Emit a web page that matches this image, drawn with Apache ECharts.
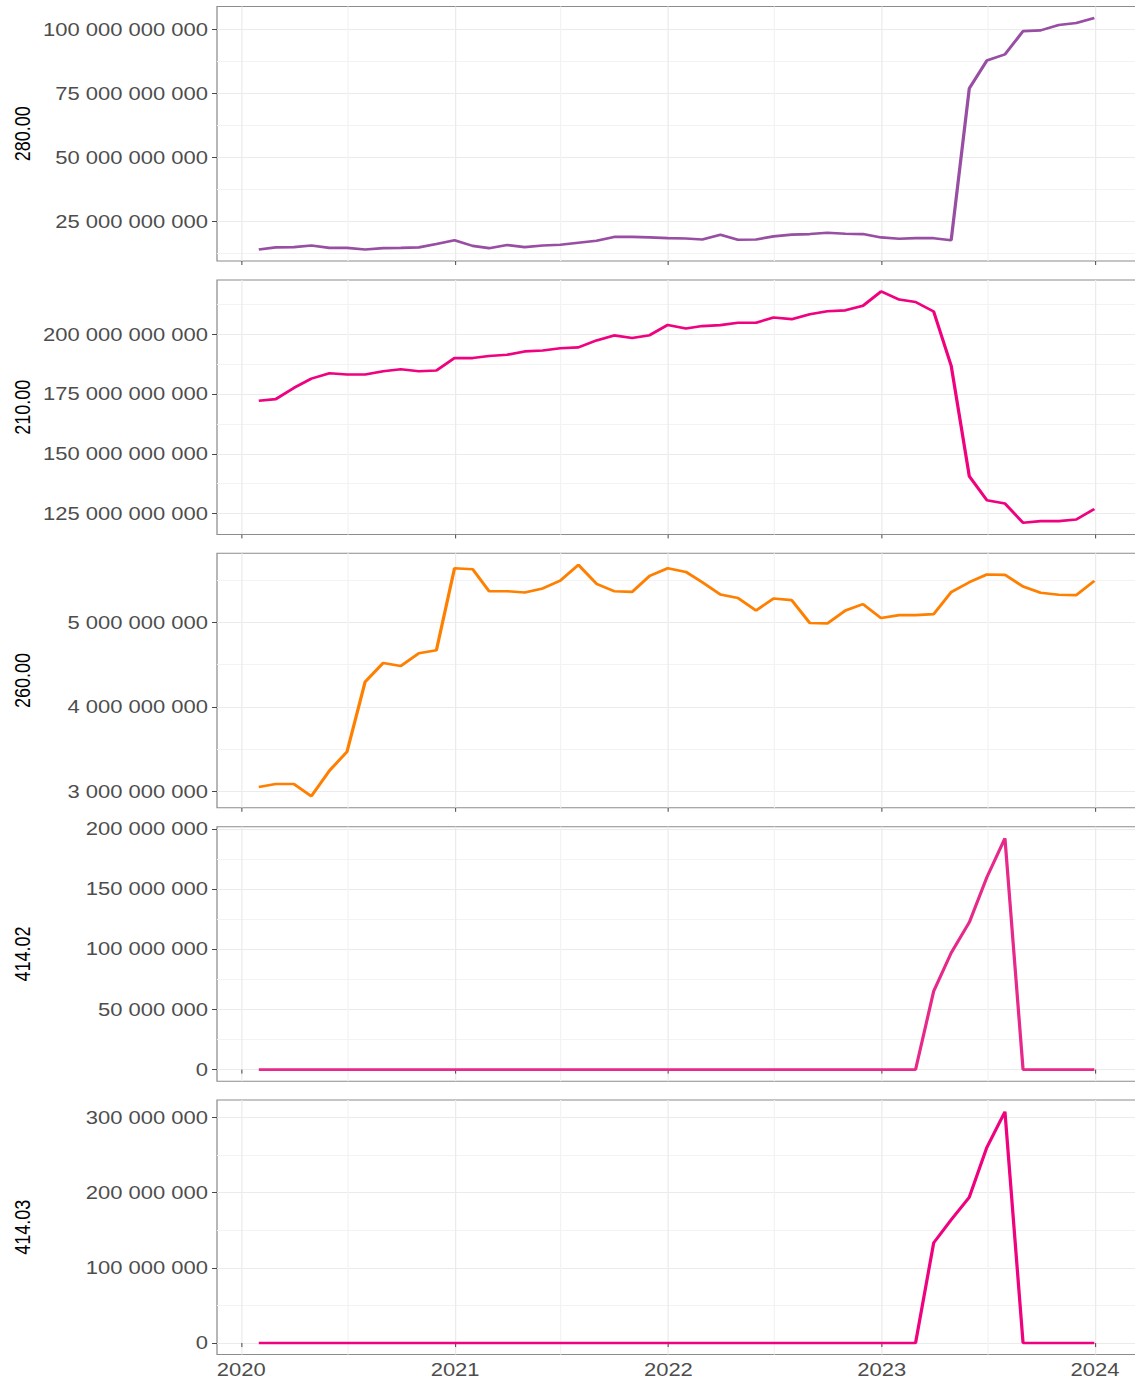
<!DOCTYPE html>
<html>
<head>
<meta charset="utf-8">
<script src="https://cdn.jsdelivr.net/npm/echarts@6/dist/echarts.min.js"></script>
<style>
html, body { margin: 0; padding: 0; overflow: hidden; background: #fff; }
/* the reference is stretched horizontally, so draw narrow and stretch */
#chart { width: 912px; height: 1381px; transform: scaleX(1.25); transform-origin: 0 0; }
</style>
</head>
<body>
<div id="chart"></div>
<script>
const dates = [
  '2020-01-31', '2020-02-29', '2020-03-31', '2020-04-30', '2020-05-31', '2020-06-30',
  '2020-07-31', '2020-08-31', '2020-09-30', '2020-10-31', '2020-11-30', '2020-12-31',
  '2021-01-31', '2021-02-28', '2021-03-31', '2021-04-30', '2021-05-31', '2021-06-30',
  '2021-07-31', '2021-08-31', '2021-09-30', '2021-10-31', '2021-11-30', '2021-12-31',
  '2022-01-31', '2022-02-28', '2022-03-31', '2022-04-30', '2022-05-31', '2022-06-30',
  '2022-07-31', '2022-08-31', '2022-09-30', '2022-10-31', '2022-11-30', '2022-12-31',
  '2023-01-31', '2023-02-28', '2023-03-31', '2023-04-30', '2023-05-31', '2023-06-30',
  '2023-07-31', '2023-08-31', '2023-09-30', '2023-10-31', '2023-11-30', '2023-12-31'
]

// billions
const values280 = [
  14.1, 14.9, 15.0, 15.65, 14.7, 14.7, 14.1, 14.6, 14.7, 14.9, 16.2, 17.7,
  15.5, 14.6, 15.8, 15.0, 15.65, 15.9, 16.7, 17.5, 19.0, 19.0, 18.8, 18.5,
  18.4, 18.0, 19.8, 17.9, 18.0, 19.2, 19.9, 20.1, 20.6, 20.2, 20.1, 18.8,
  18.3, 18.5, 18.5, 17.7, 77.0, 87.9, 90.3, 99.4, 99.7, 101.8, 102.6, 104.5
]
// billions
const values210 = [
  172.2, 172.9, 177.6, 181.5, 183.75, 183.2, 183.2, 184.6, 185.4, 184.6, 184.9, 190.1,
  190.1, 191.0, 191.5, 192.9, 193.3, 194.2, 194.6, 197.5, 199.6, 198.5, 199.7, 204.0,
  202.5, 203.5, 203.9, 204.9, 204.9, 207.1, 206.4, 208.5, 209.7, 210.1, 212.0, 218.0,
  214.6, 213.6, 209.6, 186.9, 140.6, 130.6, 129.2, 121.1, 121.8, 121.8, 122.5, 126.9
]
// billions
const values260 = [
  3.055, 3.090, 3.090, 2.945, 3.248, 3.471, 4.297, 4.521, 4.485, 4.635, 4.670, 5.640,
  5.629, 5.369, 5.369, 5.354, 5.401, 5.495, 5.680, 5.456, 5.369, 5.361, 5.550, 5.640,
  5.597, 5.475, 5.330, 5.287, 5.141, 5.283, 5.263, 4.992, 4.988, 5.141, 5.216, 5.051,
  5.086, 5.086, 5.098, 5.358, 5.475, 5.566, 5.562, 5.424, 5.350, 5.326, 5.322, 5.491
]
// millions
const values41402 = [
  0, 0, 0, 0, 0, 0, 0, 0, 0, 0, 0, 0,
  0, 0, 0, 0, 0, 0, 0, 0, 0, 0, 0, 0,
  0, 0, 0, 0, 0, 0, 0, 0, 0, 0, 0, 0,
  0, 0, 65.1, 97.0, 122.4, 159.7, 192.2, 0, 0, 0, 0, 0
]
// millions
const values41403 = [
  0, 0, 0, 0, 0, 0, 0, 0, 0, 0, 0, 0,
  0, 0, 0, 0, 0, 0, 0, 0, 0, 0, 0, 0,
  0, 0, 0, 0, 0, 0, 0, 0, 0, 0, 0, 0,
  0, 0, 133.2, 164.0, 194.1, 260.3, 307.9, 0, 0, 0, 0, 0
]

const ticks280 = [25e9, 50e9, 75e9, 100e9]
const minor280 = [12.5e9, 37.5e9, 62.5e9, 87.5e9]
const ticks210 = [125e9, 150e9, 175e9, 200e9]
const minor210 = [137.5e9, 162.5e9, 187.5e9, 212.5e9]
const ticks260 = [3e9, 4e9, 5e9]
const minor260 = [3.5e9, 4.5e9, 5.5e9]
const ticks41402 = [0, 50e6, 100e6, 150e6, 200e6]
const minor41402 = [25e6, 75e6, 125e6, 175e6]
const ticks41403 = [0, 100e6, 200e6, 300e6]
const minor41403 = [50e6, 150e6, 250e6]

const yearTicks = ['2020-01-01', '2021-01-01', '2022-01-01', '2023-01-01', '2024-01-01']
const midYears = ['2020-07-01', '2021-07-01', '2022-07-01', '2023-07-01']

const panels = [
  { code: '280.00', values: values280, unit: 1e9, ticks: ticks280, minor: minor280, color: '#984ea3' },
  { code: '210.00', values: values210, unit: 1e9, ticks: ticks210, minor: minor210, color: '#f0027f' },
  { code: '260.00', values: values260, unit: 1e9, ticks: ticks260, minor: minor260, color: '#ff7f00' },
  { code: '414.02', values: values41402, unit: 1e6, ticks: ticks41402, minor: minor41402, color: '#e7298a' },
  { code: '414.03', values: values41403, unit: 1e6, ticks: ticks41403, minor: minor41403, color: '#f0027f' }
]

const ts = s => {
  const [y, m, d] = s.split('-').map(Number)
  return Date.UTC(y, m - 1, d)
}
const fmt = v => String(Math.round(v)).replace(/\B(?=(\d{3})+(?!\d))/g, ' ')

const dateTs = dates.map(ts)
const yearTs = yearTicks.map(ts)
const midTs = midYears.map(ts)
const xPad = (dateTs[dateTs.length - 1] - dateTs[0]) * 0.05
const xMin = dateTs[0] - xPad
const xMax = dateTs[dateTs.length - 1] + xPad

const font = 'Liberation Sans, Arial, sans-serif'
const grid = []
const xAxis = []
const yAxis = []
const series = []

panels.forEach((p, k) => {
  const vals = p.values.map(v => v * p.unit)
  const lo = Math.min(...vals)
  const hi = Math.max(...vals)
  const pad = (hi - lo) * 0.05

  grid.push({
    left: 173.6, width: 735.3, top: 6.5 + k * 273.4, height: 254.5,
    outerBoundsMode: 'none', containLabel: false,
    show: true, borderColor: '#8c8c8c', borderWidth: 1, backgroundColor: 'transparent'
  })

  // major x axis: year ticks (timestamps on a value axis)
  xAxis.push({
    type: 'value', gridIndex: k, min: xMin, max: xMax,
    axisLine: { show: false },
    axisTick: { show: true, customValues: yearTs, length: 4, lineStyle: { color: '#333', width: 0.8 } },
    axisLabel: {
      show: k === 4, customValues: yearTs, margin: 6,
      formatter: v => String(new Date(v + 86400000).getUTCFullYear()),
      color: '#4d4d4d', fontSize: 17.6, fontFamily: font
    },
    splitLine: { show: true, lineStyle: { color: '#ebebeb', width: 1 } }
  })
  // minor x grid
  xAxis.push({
    type: 'value', gridIndex: k, min: xMin, max: xMax,
    axisLine: { show: false },
    axisTick: { show: false, customValues: midTs },
    axisLabel: { show: false },
    splitLine: { show: true, lineStyle: { color: '#f3f3f3', width: 1 } }
  })

  yAxis.push({
    type: 'value', gridIndex: k, min: lo - pad, max: hi + pad, position: 'left',
    name: p.code, nameLocation: 'middle', nameGap: 146.5, nameMoveOverlap: false,
    nameTextStyle: { color: '#000', fontSize: 18, fontFamily: font },
    axisLine: { show: false },
    axisTick: { show: true, customValues: p.ticks, length: 4, lineStyle: { color: '#333', width: 0.8 } },
    axisLabel: {
      customValues: p.ticks, margin: 7.2, formatter: fmt,
      color: '#4d4d4d', fontSize: 17.6, fontFamily: font
    },
    splitLine: { show: true, lineStyle: { color: '#ebebeb', width: 1 } }
  })
  yAxis.push({
    type: 'value', gridIndex: k, min: lo - pad, max: hi + pad, position: 'left',
    axisLine: { show: false },
    axisTick: { show: false, customValues: p.minor },
    axisLabel: { show: false },
    splitLine: { show: true, lineStyle: { color: '#f3f3f3', width: 1 } }
  })

  series.push({
    type: 'line',
    xAxisIndex: 2 * k,
    yAxisIndex: 2 * k,
    data: dateTs.map((t, i) => [t, vals[i]]),
    showSymbol: false,
    lineStyle: { color: p.color, width: 2.6 },
    itemStyle: { color: p.color },
    silent: true
  })
})

const chart = echarts.init(document.getElementById('chart'), null, { renderer: 'svg' })
chart.setOption({
  animation: false,
  backgroundColor: '#fff',
  grid,
  xAxis,
  yAxis,
  series
})
</script>
</body>
</html>
